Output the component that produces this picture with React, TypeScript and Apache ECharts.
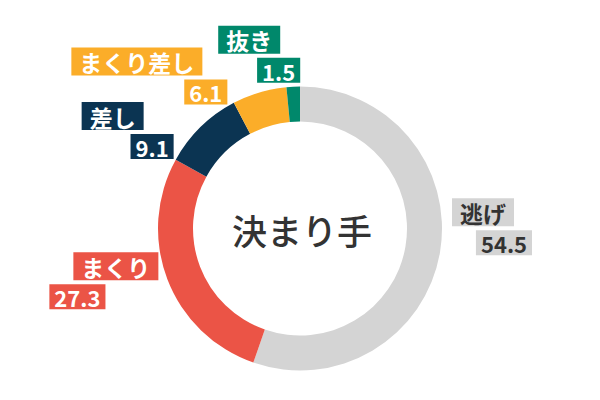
import React, { useEffect, useRef } from "react";
import * as echarts from "echarts";

const names = ["逃げ", "まくり", "差し", "まくり差し", "抜き"];
const values = [54.5, 27.3, 9.1, 6.1, 1.5];
const colors = ["#d4d4d4", "#eb5446", "#0b3452", "#fbad29", "#00886b"];
const textColors = ["#333333", "#ffffff", "#ffffff", "#ffffff", "#ffffff"];
const centerTitle = "決まり手";

// label layout config (offsets from outer-edge point at the slice's mid angle)
const labelDx = [12, -9, -27, -32, 7];
const labelDy = [-54, -27, -25, -45, -61];
const labelAlign = ["left", "right", "right", "right", "right"];
const spacerW = [18, 24, 30, 25, 20];

const CX = 300;
const CY = 228.5;
const R_IN = 107;
const R_OUT = 142;

export default function App() {
  const ref = useRef<HTMLDivElement>(null);
  useEffect(() => {
    if (!ref.current) return;
    const chart = echarts.init(ref.current, null, { renderer: "svg" });
    const total = values.reduce((a, b) => a + b, 0);
    const mids: number[] = [];
    let acc = 0;
    values.forEach((v) => {
      mids.push(((acc + v / 2) / total) * Math.PI * 2);
      acc += v;
    });

    const rich: any = {
      g: { fontSize: 4, lineHeight: 4 },
    };
    names.forEach((n, i) => {
      const leftSide = i === 1;
      rich["n" + i] = {
        fontFamily: "Noto Sans CJK JP",
        fontSize: 23,
        fontWeight: "bold",
        color: textColors[i],
        backgroundColor: colors[i],
        padding: [3, 8, 2, 8],
        align: leftSide ? "right" : "left",
      };
      rich["s" + i] = {
        width: spacerW[i],
        fontSize: 10,
        align: leftSide ? "left" : "right",
      };
      rich["v" + i] = {
        fontFamily: "Noto Sans CJK JP",
        fontSize: 22,
        fontWeight: "bold",
        color: textColors[i],
        backgroundColor: colors[i],
        padding: [2, 5, 1, 5],
        align: leftSide ? "left" : "right",
      };
    });

    chart.setOption({
      animation: false,
      graphic: [
        {
          type: "text",
          x: CX + 2,
          y: CY + 1,
          style: {
            text: centerTitle,
            fontFamily: "Noto Sans CJK JP",
            fontSize: 35,
            fontWeight: 500,
            fill: "#333333",
            align: "center",
            verticalAlign: "middle",
          },
        },
      ],
      series: [
        {
          type: "pie",
          center: [CX, CY],
          radius: [R_IN, R_OUT],
          startAngle: 90,
          clockwise: true,
          avoidLabelOverlap: false,
          itemStyle: { borderWidth: 0 },
          emphasis: { disabled: true },
          labelLine: { show: false },
          label: {
            show: true,
            position: "outside",
            rich,
            formatter: (p: any) => {
              const i = p.dataIndex;
              const val = values[i].toFixed(1);
              if (i === 1) {
                return `{s${i}| }{n${i}|${names[i]}}\n{g| }\n{v${i}|${val}}`;
              }
              return `{n${i}|${names[i]}}{s${i}| }\n{g| }\n{v${i}|${val}}`;
            },
          },
          labelLayout: (p: any) => {
            const i = p.dataIndex;
            const a = mids[i];
            const ax = CX + R_OUT * Math.sin(a);
            const ay = CY - R_OUT * Math.cos(a);
            return {
              x: ax + labelDx[i],
              y: ay + labelDy[i],
              align: labelAlign[i],
              verticalAlign: "top",
            };
          },
          data: names.map((n, i) => ({
            name: n,
            value: values[i],
            itemStyle: { color: colors[i] },
          })),
        },
      ],
    });
    return () => chart.dispose();
  }, []);
  return (
    <div
      ref={ref}
      style={{ position: "fixed", left: 0, top: 0, width: 600, height: 400, background: "#fff" }}
    />
  );
}
